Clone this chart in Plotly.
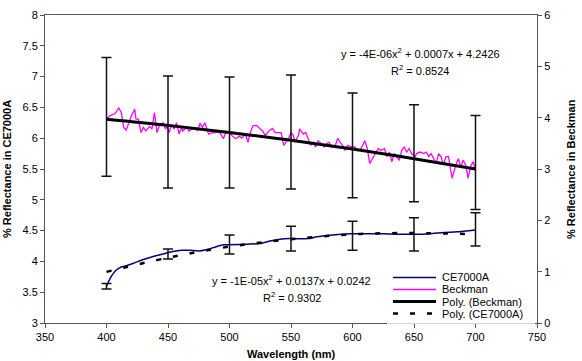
import plotly.graph_objects as go

# ---------------- data ----------------
ce_x = [400, 404, 408, 412, 416, 422, 430, 438, 446, 454, 461, 468, 475, 481, 488, 495, 500,
        514, 525, 533, 541, 549, 565, 571, 584, 598, 612, 625, 639, 651, 663, 674, 685, 700]
ce_y = [3.60, 3.76, 3.86, 3.91, 3.93, 3.97, 4.03, 4.08, 4.12, 4.16, 4.18, 4.18, 4.17, 4.19, 4.23, 4.27, 4.27,
        4.28, 4.29, 4.33, 4.36, 4.37, 4.37, 4.40, 4.43, 4.45, 4.45, 4.45, 4.44, 4.44, 4.45, 4.47, 4.48, 4.51]

beck_x = [400, 403, 407, 410, 412, 414, 416, 418, 420, 421, 423, 424, 426, 428, 430, 432, 435, 437, 439, 441,
          443, 446, 448, 449, 451, 453, 455, 457, 459, 461, 462, 465, 467, 470, 473, 474, 476, 478, 480, 481,
          483, 486, 489, 491, 493, 495, 497, 500, 502, 505, 508, 510, 513, 515, 517, 519, 522, 525, 527, 529,
          532, 535, 537, 539, 542, 544, 547, 548, 550, 552, 553, 556, 557, 560, 562, 564, 566, 568, 570, 572,
          575, 577, 579, 581, 583, 586, 588, 590, 592, 594, 596, 599, 602, 604, 607, 610, 612, 614, 617, 619,
          621, 623, 626, 628, 630, 632, 634, 636, 638, 640, 642, 644, 646, 648, 651, 652, 655, 658, 660, 662,
          664, 666, 668, 670, 672, 674, 676, 678, 680, 681, 684, 686, 688, 690, 692, 694, 696, 698, 700]
beck_y = [3.98, 4.04, 4.08, 4.19, 4.10, 3.81, 3.76, 3.89, 4.00, 4.08, 4.16, 3.97, 3.97, 3.71, 3.81, 3.74, 3.83, 3.78, 4.10, 3.71,
          3.84, 3.90, 3.78, 3.84, 3.71, 3.87, 3.78, 3.90, 3.68, 3.81, 3.74, 3.81, 3.74, 3.79, 3.79, 3.74, 3.89, 3.81, 3.90, 3.81,
          3.68, 3.71, 3.71, 3.74, 3.68, 3.59, 3.71, 3.72, 3.65, 3.59, 3.64, 3.60, 3.68, 3.52, 3.71, 3.84, 3.85, 3.78, 3.74, 3.65,
          3.74, 3.79, 3.71, 3.71, 3.71, 3.46, 3.55, 3.59, 3.71, 3.65, 3.52, 3.65, 3.78, 3.68, 3.71, 3.59, 3.46, 3.52, 3.43, 3.55,
          3.49, 3.43, 3.49, 3.52, 3.43, 3.46, 3.60, 3.52, 3.46, 3.36, 3.46, 3.43, 3.43, 3.36, 3.40, 3.55, 3.40, 3.11, 3.24, 3.30,
          3.40, 3.36, 3.40, 3.24, 3.33, 3.14, 3.30, 3.24, 3.17, 3.36, 3.43, 3.33, 3.40, 3.30, 3.24, 3.30, 3.33, 3.30, 3.33, 3.24,
          3.30, 3.20, 3.11, 3.30, 3.24, 3.08, 3.24, 3.24, 2.92, 2.82, 3.08, 3.20, 3.05, 3.17, 3.08, 2.82, 3.05, 3.14, 2.98]

trend_x = [400, 450, 500, 550, 600, 650, 700]
poly_beck = [3.97, 3.85, 3.71, 3.56, 3.39, 3.20, 3.00]
poly_ce = [3.83, 4.06, 4.24, 4.36, 4.44, 4.46, 4.44]

err_x = [400, 450, 500, 550, 600, 650, 700]
ce_err_hi = [3.64, 4.20, 4.43, 4.57, 4.65, 4.71, 4.79]
ce_err_lo = [3.55, 4.04, 4.12, 4.17, 4.18, 4.17, 4.25]
beck_err_hi = [5.17, 4.81, 4.79, 4.83, 4.48, 4.25, 4.04]
beck_err_lo = [2.86, 2.63, 2.63, 2.61, 2.44, 2.36, 2.21]

x_ticks = [350, 400, 450, 500, 550, 600, 650, 700, 750]
series_names = ["CE7000A", "Beckman", "Poly. (Beckman)", "Poly. (CE7000A)"]
eq_beck = ["y = -4E-06x<sup>2</sup> + 0.0007x + 4.2426", "R<sup>2</sup> = 0.8524"]
eq_ce = ["y = -1E-05x<sup>2</sup> + 0.0137x + 0.0242", "R<sup>2</sup> = 0.9302"]

# ---------------- layout helpers ----------------
W, H = 582, 361
L, R, T, B = 45, 45, 9, 38
PW, PH = W - L - R, H - T - B


def px(x):
    return (x - L) / PW


def py(y):
    return (H - B - y) / PH


FONT = "Liberation Sans, Arial, sans-serif"
MAGENTA = "#FF00FF"
NAVY = "#000080"

fig = go.Figure()
fig.add_trace(go.Scatter(x=ce_x, y=ce_y, mode="lines", name=series_names[0],
                         line=dict(color=NAVY, width=1.5, shape="spline", smoothing=0.6),
                         showlegend=False))
fig.add_trace(go.Scatter(x=beck_x, y=beck_y, mode="lines", name=series_names[1], yaxis="y2",
                         line=dict(color=MAGENTA, width=1.3), showlegend=False))
fig.add_trace(go.Scatter(x=trend_x, y=poly_beck, mode="lines", name=series_names[2], yaxis="y2",
                         line=dict(color="black", width=3, shape="spline"), showlegend=False))
fig.add_trace(go.Scatter(x=trend_x, y=poly_ce, mode="lines", name=series_names[3],
                         line=dict(color="black", width=2.5, dash="5px,12px", shape="spline"),
                         showlegend=False))

ce_mid = [(h + l) / 2 for h, l in zip(ce_err_hi, ce_err_lo)]
ce_half = [(h - l) / 2 for h, l in zip(ce_err_hi, ce_err_lo)]
bk_mid = [(h + l) / 2 for h, l in zip(beck_err_hi, beck_err_lo)]
bk_half = [(h - l) / 2 for h, l in zip(beck_err_hi, beck_err_lo)]

fig.add_trace(go.Scatter(x=err_x, y=bk_mid, mode="markers", yaxis="y2", showlegend=False,
                         marker=dict(size=1, color="rgba(0,0,0,0)"),
                         error_y=dict(type="data", array=bk_half, symmetric=True,
                                      color="#111111", thickness=1.5, width=5)))
fig.add_trace(go.Scatter(x=err_x, y=ce_mid, mode="markers", showlegend=False,
                         marker=dict(size=1, color="rgba(0,0,0,0)"),
                         error_y=dict(type="data", array=ce_half, symmetric=True,
                                      color="#111111", thickness=1.5, width=5)))

axis_line = "#555555"
fig.update_layout(
    width=W, height=H,
    margin=dict(l=L, r=R, t=T, b=B, pad=0),
    paper_bgcolor="white", plot_bgcolor="white",
    font=dict(family=FONT, size=11, color="black"),
    showlegend=False,
    xaxis=dict(range=[350, 750], tickvals=x_ticks, showgrid=False, zeroline=False,
               showline=True, linecolor=axis_line, linewidth=1, mirror=True,
               ticks="outside", ticklen=4, tickcolor=axis_line,
               tickfont=dict(size=11, family=FONT)),
    yaxis=dict(range=[3, 8], dtick=0.5, showgrid=False, zeroline=False,
               showline=True, linecolor=axis_line, linewidth=1,
               ticks="outside", ticklen=4, tickcolor=axis_line,
               tickfont=dict(size=11, family=FONT)),
    yaxis2=dict(range=[0, 6], dtick=1, overlaying="y", side="right", showgrid=False, zeroline=False,
                showline=True, linecolor=axis_line, linewidth=1,
                ticks="outside", ticklen=4, tickcolor=axis_line,
                tickfont=dict(size=11, family=FONT)),
)

ann = []
# axis titles
ann.append(dict(text="<b>Wavelength (nm)</b>", x=0.5, y=py(355), xref="paper", yref="paper",
                showarrow=False, xanchor="center", yanchor="middle", font=dict(size=11)))
ann.append(dict(text="<b>% Reflectance in CE7000A</b>", x=px(7), y=0.5, xref="paper", yref="paper",
                showarrow=False, textangle=-90, xanchor="center", yanchor="middle", font=dict(size=11)))
ann.append(dict(text="<b>% Reflectance in Beckman</b>", x=px(571), y=0.5, xref="paper", yref="paper",
                showarrow=False, textangle=-90, xanchor="center", yanchor="middle", font=dict(size=11)))
# equations
for txt, cx, cy in [(eq_beck[0], 420, 48), (eq_beck[1], 420, 65.5), (eq_ce[0], 291.6, 279), (eq_ce[1], 291.6, 296)]:
    ann.append(dict(text=txt, x=px(cx), y=py(cy), xref="paper", yref="paper", showarrow=False,
                    xanchor="center", yanchor="middle", font=dict(size=11)))

shapes = []
# legend background covering axis
shapes.append(dict(type="rect", xref="paper", yref="paper", x0=px(387), x1=px(535), y0=py(323.8), y1=py(268),
                   fillcolor="white", line=dict(width=0), layer="above"))
leg_styles = [dict(color=NAVY, width=1.5), dict(color=MAGENTA, width=1.5),
              dict(color="black", width=3), dict(color="black", width=2.5, dash="5px,12px")]
rows = [276.5, 288.8, 301.1, 313.4]
for name, st, ry in zip(series_names, leg_styles, rows):
    shapes.append(dict(type="line", xref="paper", yref="paper", x0=px(393), x1=px(436), y0=py(ry), y1=py(ry),
                       line=st, layer="above"))
    ann.append(dict(text=name, x=px(440), y=py(ry), xref="paper", yref="paper", showarrow=False,
                    xanchor="left", yanchor="middle", font=dict(size=11)))

fig.update_layout(annotations=ann, shapes=shapes)
fig.write_html("out.html")
